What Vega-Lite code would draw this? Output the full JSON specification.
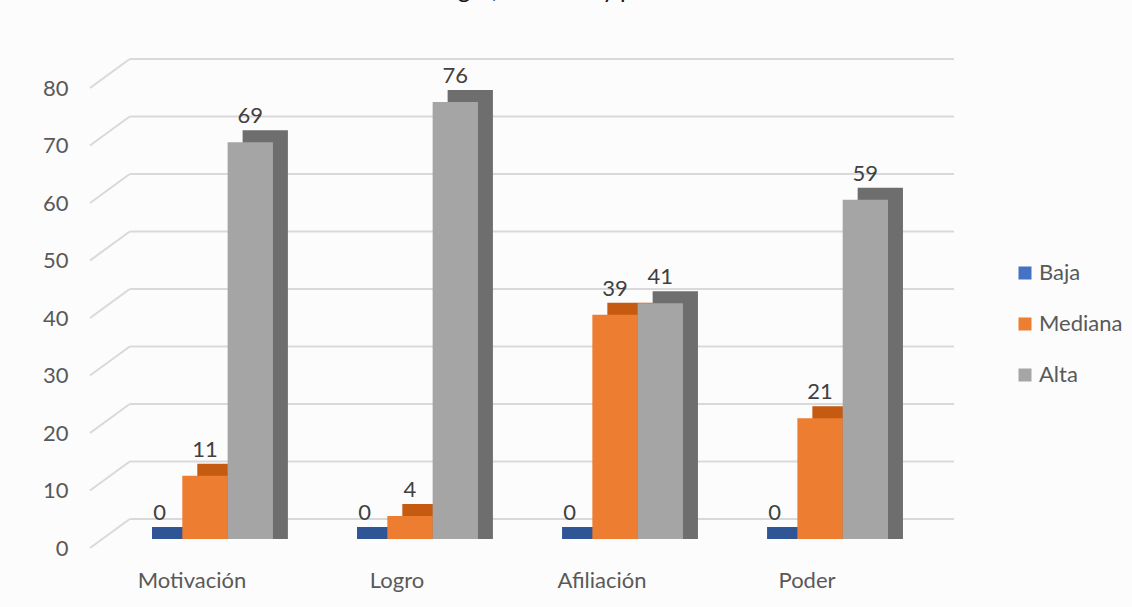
{
  "$schema": "https://vega.github.io/schema/vega-lite/v6.json",
  "width": 833,
  "height": 460,
  "autosize": {"type": "none"},
  "padding": {"left": 96, "top": 79, "right": 203, "bottom": 68},
  "background": "#fcfcfc",
  "title": {
    "text": "Motivación de logro, afiliación y poder",
    "anchor": "end",
    "frame": "group",
    "orient": "top",
    "baseline": "alphabetic",
    "offset": 36,
    "dx": -247,
    "font": "Lato",
    "fontSize": 24,
    "fontWeight": "normal",
    "color": "#111111"
  },
  "datasets": {
    "niveles": [
      {"dimension": "Motivación", "nivel": "Baja", "valor": 0},
      {"dimension": "Motivación", "nivel": "Mediana", "valor": 11},
      {"dimension": "Motivación", "nivel": "Alta", "valor": 69},
      {"dimension": "Logro", "nivel": "Baja", "valor": 0},
      {"dimension": "Logro", "nivel": "Mediana", "valor": 4},
      {"dimension": "Logro", "nivel": "Alta", "valor": 76},
      {"dimension": "Afiliación", "nivel": "Baja", "valor": 0},
      {"dimension": "Afiliación", "nivel": "Mediana", "valor": 39},
      {"dimension": "Afiliación", "nivel": "Alta", "valor": 41},
      {"dimension": "Poder", "nivel": "Baja", "valor": 0},
      {"dimension": "Poder", "nivel": "Mediana", "valor": 21},
      {"dimension": "Poder", "nivel": "Alta", "valor": 59}
    ],
    "rejilla": [
      {"valor": 0}, {"valor": 10}, {"valor": 20}, {"valor": 30}, {"valor": 40},
      {"valor": 50}, {"valor": 60}, {"valor": 70}, {"valor": 80}
    ]
  },
  "config": {
    "font": "Lato",
    "view": {"stroke": null}
  },
  "resolve": {"scale": {"x": "independent", "xOffset": "independent", "color": "independent"}},
  "layer": [
    {
      "data": {"name": "rejilla"},
      "layer": [
        {
          "mark": {"type": "rule", "color": "#d9d9d9", "strokeWidth": 2, "yOffset": -20, "y2Offset": -20},
          "encoding": {
            "x": {"datum": 0.046, "type": "quantitative", "scale": {"domain": [0, 1], "range": [-6, 858]}, "axis": null},
            "x2": {"datum": 1},
            "y": {"field": "valor", "type": "quantitative", "scale": {"domain": [0, 80], "nice": false},
                  "axis": {"domain": false, "ticks": false, "grid": false, "title": null, "values": [0, 10, 20, 30, 40, 50, 60, 70, 80],
                           "labelPadding": 28, "labelOffset": 9, "labelFontSize": 22, "labelColor": "#595959"}},
            "y2": {"field": "valor"}
          }
        },
        {
          "mark": {"type": "rule", "color": "#d9d9d9", "strokeWidth": 2, "yOffset": 9, "y2Offset": -20},
          "encoding": {
            "x": {"datum": 0, "type": "quantitative", "scale": {"domain": [0, 1], "range": [-6, 858]}, "axis": null},
            "x2": {"datum": 0.046},
            "y": {"field": "valor", "type": "quantitative"},
            "y2": {"field": "valor"}
          }
        }
      ]
    },
    {
      "data": {"name": "niveles"},
      "mark": {"type": "bar", "yOffset": -12, "y2Offset": 0.01},
      "encoding": {
        "x": {"field": "dimension", "type": "nominal", "sort": ["Motivación", "Logro", "Afiliación", "Poder"],
              "scale": {"paddingInner": 0.337, "paddingOuter": 0.2},
              "axis": {"domain": false, "ticks": false, "title": null, "labelAngle": 0, "labelPadding": 31, "labelOffset": -13,
                       "labelFontSize": 22, "labelColor": "#595959"}},
        "xOffset": {"field": "nivel", "type": "nominal", "sort": ["Baja", "Mediana", "Alta"],
                    "scale": {"range": [15, 150.9]}},
        "y": {"field": "valor", "type": "quantitative"},
        "y2": {"datum": 0},
        "color": {"field": "nivel", "type": "nominal", "legend": null,
                  "scale": {"domain": ["Baja", "Mediana", "Alta"], "range": ["#2f5597", "#c55a11", "#6e6e6e"]}}
      }
    },
    {
      "data": {"name": "niveles"},
      "mark": {"type": "bar"},
      "encoding": {
        "x": {"field": "dimension", "type": "nominal", "sort": ["Motivación", "Logro", "Afiliación", "Poder"],
              "scale": {"paddingInner": 0.337, "paddingOuter": 0.2}, "axis": null},
        "xOffset": {"field": "nivel", "type": "nominal", "sort": ["Baja", "Mediana", "Alta"]},
        "y": {"field": "valor", "type": "quantitative"},
        "color": {"field": "nivel", "type": "nominal",
                  "scale": {"domain": ["Baja", "Mediana", "Alta"], "range": ["#4472c4", "#ed7d31", "#a5a5a5"]},
                  "legend": {"title": null, "orient": "none", "legendX": 918, "legendY": 186, "padding": 0,
                             "symbolType": "square", "symbolSize": 169, "symbolStrokeWidth": 0,
                             "labelFontSize": 22, "labelColor": "#595959", "rowPadding": 29, "clipHeight": 16, "labelOffset": 3}}
      }
    },
    {
      "data": {"name": "niveles"},
      "mark": {"type": "text", "baseline": "middle", "dy": -26, "fontSize": 22, "color": "#404040"},
      "encoding": {
        "x": {"field": "dimension", "type": "nominal", "sort": ["Motivación", "Logro", "Afiliación", "Poder"],
              "scale": {"paddingInner": 0.337, "paddingOuter": 0.2}, "axis": null},
        "xOffset": {"field": "nivel", "type": "nominal", "sort": ["Baja", "Mediana", "Alta"]},
        "y": {"field": "valor", "type": "quantitative"},
        "text": {"field": "valor", "type": "quantitative"}
      }
    }
  ]
}
